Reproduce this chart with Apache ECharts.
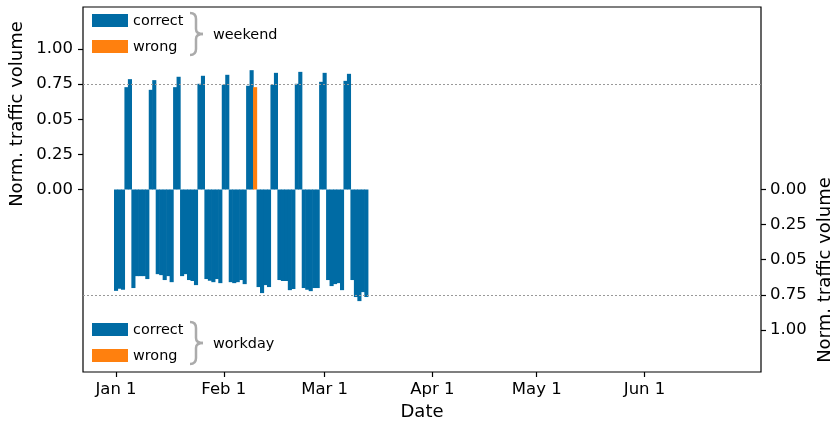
<!DOCTYPE html>
<html>
<head>
<meta charset="utf-8">
<script src="https://cdn.jsdelivr.net/npm/echarts@6/dist/echarts.min.js"></script>
<style>
html,body{margin:0;padding:0;background:#fff;}
#chart{width:835px;height:421px;}
</style>
</head>
<body>
<div id="chart"></div>
<script>
// ---- data ----
const axisStart = '2019-12-23';
const axisDayCount = 195;

const xTickDates = ['2020-01-01','2020-02-01','2020-03-01','2020-04-01','2020-05-01','2020-06-01'];
const xTickLabels = ['Jan 1','Feb 1','Mar 1','Apr 1','May 1','Jun 1'];

const leftTickValues = [0, 0.25, 0.5, 0.75, 1];
const leftTickLabels = ['0.00','0.25','0.05','0.75','1.00'];
const rightTickValues = [0, -0.25, -0.5, -0.75, -1];
const rightTickLabels = ['0.00','0.25','0.05','0.75','1.00'];

const weekendDates = ['2020-01-04','2020-01-05','2020-01-11','2020-01-12','2020-01-18','2020-01-19',
  '2020-01-25','2020-01-26','2020-02-01','2020-02-02','2020-02-08','2020-02-09','2020-02-15','2020-02-16',
  '2020-02-22','2020-02-23','2020-02-29','2020-03-01','2020-03-07','2020-03-08'];
const weekendCorrect = [0.729,0.786,0.710,0.779,0.729,0.803,0.753,0.810,0.746,0.817,
  0.739,0.850,0.746,0.831,0.753,0.838,0.767,0.831,0.774,0.824];

const weekendWrongDates = ['2020-02-10'];
const weekendWrong = [0.729];

const workdayDates = ['2020-01-01','2020-01-02','2020-01-03',
  '2020-01-06','2020-01-07','2020-01-08','2020-01-09','2020-01-10',
  '2020-01-13','2020-01-14','2020-01-15','2020-01-16','2020-01-17',
  '2020-01-20','2020-01-21','2020-01-22','2020-01-23','2020-01-24',
  '2020-01-27','2020-01-28','2020-01-29','2020-01-30','2020-01-31',
  '2020-02-03','2020-02-04','2020-02-05','2020-02-06','2020-02-07',
  '2020-02-11','2020-02-12','2020-02-13','2020-02-14',
  '2020-02-17','2020-02-18','2020-02-19','2020-02-20','2020-02-21',
  '2020-02-24','2020-02-25','2020-02-26','2020-02-27','2020-02-28',
  '2020-03-02','2020-03-03','2020-03-04','2020-03-05','2020-03-06',
  '2020-03-09','2020-03-10','2020-03-11','2020-03-12','2020-03-13'];
const workdayCorrect = [0.722,0.707,0.714,
  0.702,0.617,0.617,0.617,0.638,
  0.603,0.610,0.645,0.617,0.660,
  0.617,0.603,0.645,0.652,0.681,
  0.638,0.650,0.660,0.638,0.667,
  0.660,0.667,0.660,0.645,0.674,
  0.695,0.738,0.681,0.695,
  0.645,0.652,0.652,0.717,0.709,
  0.702,0.714,0.724,0.702,0.702,
  0.645,0.688,0.674,0.667,0.717,
  0.645,0.766,0.795,0.731,0.766];

const workdayWrongDates = [];
const workdayWrong = [];

// ---- build ----
function pad(n){return n<10?'0'+n:''+n;}
const days = [];
(function(){
  const p = axisStart.split('-').map(Number);
  for (let i = 0; i < axisDayCount; i++) {
    const d = new Date(Date.UTC(p[0], p[1]-1, p[2] + i));
    days.push(d.getUTCFullYear()+'-'+pad(d.getUTCMonth()+1)+'-'+pad(d.getUTCDate()));
  }
})();
function toSeries(dates, vals, sign){
  const arr = days.map(() => null);
  dates.forEach((d, i) => { const k = days.indexOf(d); if (k >= 0) arr[k] = sign * vals[i]; });
  return arr;
}

const BLUE = '#006BA4', ORANGE = '#FF800E', GREY = '#ABABAB';
const FONT = '"DejaVu Sans", sans-serif';

function labelFor(values, labels){
  return function(v){
    const k = values.findIndex(t => Math.abs(t - v) < 1e-9);
    return k >= 0 ? labels[k] : '';
  };
}
const isTick = (idx, val) => xTickDates.indexOf(val) >= 0;

function brace(x0, y0, y1, tip){
  const ym = (y0 + y1) / 2, xm = x0 + 6;
  const st = {stroke:GREY, lineWidth:2.5, fill:null};
  return [
    {type:'bezierCurve', shape:{x1:x0, y1:y0, cpx1:xm, cpy1:y0, x2:xm, y2:y0+6}, style:st},
    {type:'line', shape:{x1:xm, y1:y0+6, x2:xm, y2:ym-5}, style:st},
    {type:'bezierCurve', shape:{x1:xm, y1:ym-5, cpx1:xm, cpy1:ym, x2:tip, y2:ym}, style:st},
    {type:'bezierCurve', shape:{x1:tip, y1:ym, cpx1:xm, cpy1:ym, x2:xm, y2:ym+5}, style:st},
    {type:'line', shape:{x1:xm, y1:ym+5, x2:xm, y2:y1-6}, style:st},
    {type:'bezierCurve', shape:{x1:xm, y1:y1-6, cpx1:xm, cpy1:y1, x2:x0, y2:y1}, style:st}
  ];
}
function legendBlock(yTop, word){
  return [
    {type:'rect', shape:{x:92, y:yTop, width:36, height:13}, style:{fill:BLUE}},
    {type:'rect', shape:{x:92, y:yTop+26, width:36, height:13}, style:{fill:ORANGE}},
    {type:'text', x:133, y:yTop+7, style:{text:'correct', font:'14.4px '+FONT, fill:'#000', align:'left', verticalAlign:'middle'}},
    {type:'text', x:133, y:yTop+33, style:{text:'wrong', font:'14.4px '+FONT, fill:'#000', align:'left', verticalAlign:'middle'}},
    {type:'text', x:213, y:yTop+21, style:{text:word, font:'14.4px '+FONT, fill:'#000', align:'left', verticalAlign:'middle'}}
  ].concat(brace(190, yTop-1, yTop+41, 203));
}

function barSeries(name, dates, vals, sign, color){
  return {name:name, type:'bar', stack:'a', barWidth:'118%', data: toSeries(dates, vals, sign),
          itemStyle:{color:color, borderWidth:0}};
}

const chart = echarts.init(document.getElementById('chart'), null, {renderer:'canvas'});
const sWeekendCorrect = barSeries('weekend correct', weekendDates, weekendCorrect, 1, BLUE);
sWeekendCorrect.markLine = {silent:true, symbol:'none', label:{show:false},
  lineStyle:{type:[2,2], color:'#999', width:1}, data:[{yAxis:0.75},{yAxis:-0.75}]};

chart.setOption({
  animation: false,
  grid: {left:83, right:74, top:7, bottom:49, containLabel:false, outerBoundsMode:'none',
         show:true, borderColor:'#000', borderWidth:1.2, backgroundColor:'transparent'},
  xAxis: {
    type:'category', data: days, boundaryGap:true,
    axisLine:{show:false, onZero:false},
    axisTick:{show:true, alignWithLabel:true, interval:isTick, length:5, lineStyle:{color:'#000', width:1.2}},
    axisLabel:{interval:isTick, formatter: v => xTickLabels[xTickDates.indexOf(v)] || '', fontSize:16.5, fontFamily:FONT, color:'#000', margin:9},
    splitLine:{show:false},
    name:'Date', nameLocation:'middle', nameGap:30, nameTextStyle:{fontSize:18, fontFamily:FONT, color:'#000'}
  },
  yAxis: [
    {type:'value', position:'left', min:-1.3, max:1.3,
     axisLine:{show:false}, splitLine:{show:false},
     axisTick:{show:true, customValues:leftTickValues, length:5, lineStyle:{color:'#000', width:1.2}},
     axisLabel:{customValues:leftTickValues, formatter:labelFor(leftTickValues, leftTickLabels), fontSize:16.5, fontFamily:FONT, color:'#000', margin:10}},
    {type:'value', position:'right', min:-1.3, max:1.3,
     axisLine:{show:false}, splitLine:{show:false},
     axisTick:{show:true, customValues:rightTickValues, length:5, lineStyle:{color:'#000', width:1.2}},
     axisLabel:{customValues:rightTickValues, formatter:labelFor(rightTickValues, rightTickLabels), fontSize:16.5, fontFamily:FONT, color:'#000', margin:9}}
  ],
  series: [
    sWeekendCorrect,
    barSeries('weekend wrong', weekendWrongDates, weekendWrong, 1, ORANGE),
    barSeries('workday correct', workdayDates, workdayCorrect, -1, BLUE),
    barSeries('workday wrong', workdayWrongDates, workdayWrong, -1, ORANGE)
  ],
  graphic: [].concat(
    legendBlock(14, 'weekend'),
    legendBlock(323, 'workday'),
    [
      {type:'text', x:17, y:114, rotation:Math.PI/2, style:{text:'Norm. traffic volume', font:'18px '+FONT, fill:'#000', align:'center', verticalAlign:'middle'}},
      {type:'text', x:825, y:270, rotation:Math.PI/2, style:{text:'Norm. traffic volume', font:'18px '+FONT, fill:'#000', align:'center', verticalAlign:'middle'}}
    ]
  )
});
</script>
</body>
</html>
